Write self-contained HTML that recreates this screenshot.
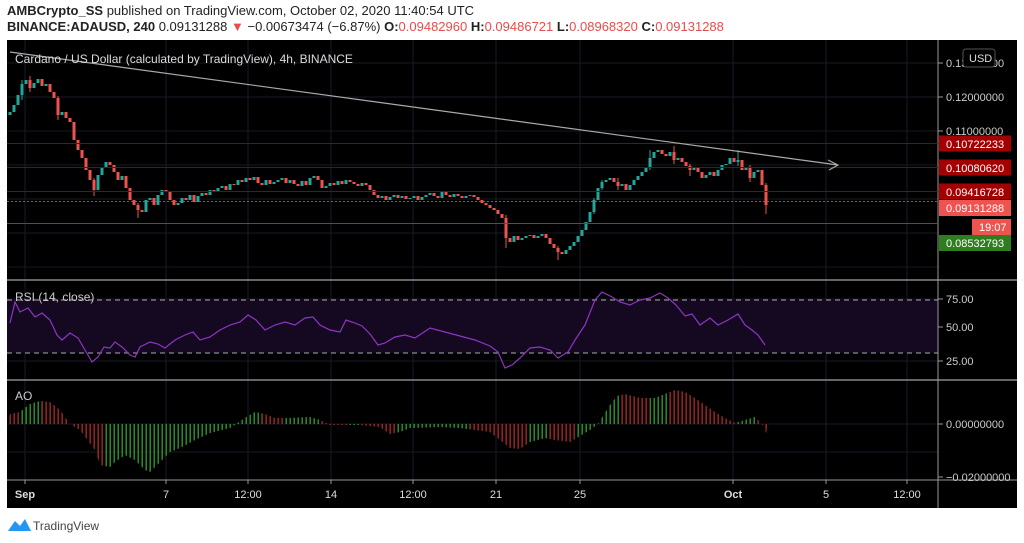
<!DOCTYPE html>
<html><head><meta charset="utf-8"><style>
body{margin:0;background:#fff;width:1024px;height:543px;overflow:hidden;font-family:"Liberation Sans",sans-serif}
.t1{position:absolute;left:7px;top:3px;font-size:13px;color:#222}
.t2{position:absolute;left:7px;top:19px;font-size:13px;color:#222}
.r{color:#e84c4c}
svg{position:absolute;left:0;top:0}
</style></head><body>
<div class="t1"><b>AMBCrypto_SS</b> published on TradingView.com, October 02, 2020 11:40:54 UTC</div>
<div class="t2"><b>BINANCE:ADAUSD, 240</b> 0.09131288 <span class="r">▼</span> −0.00673474 (−6.87%) <b>O:</b><span class="r">0.09482960</span> <b>H:</b><span class="r">0.09486721</span> <b>L:</b><span class="r">0.08968320</span> <b>C:</b><span class="r">0.09131288</span></div>
<svg width="1024" height="543" xmlns="http://www.w3.org/2000/svg" font-family="Liberation Sans, sans-serif" font-size="11">
<defs>
<pattern id="pg" x="9" y="0" width="4" height="10" patternUnits="userSpaceOnUse"><rect x="0.5" y="0" width="1.3" height="10" fill="#1e9e2e"/></pattern>
<pattern id="pr" x="9" y="0" width="4" height="10" patternUnits="userSpaceOnUse"><rect x="0.5" y="0" width="1.3" height="10" fill="#b02a2a"/></pattern>
<clipPath id="ao"><polygon points="8,424 10,414 20,412 30,404 40,401 50,402 60,410 70,424 80,430 95,450 100,465 110,467 115,462 125,455 135,460 145,470 150,472 160,462 170,452 180,448 195,440 210,433 230,428 245,418 255,412 265,414 275,418 290,418 310,417 320,420 330,425 360,425 380,427 390,434 400,432 410,428 440,427 460,428 490,432 500,440 510,448 520,449 530,442 545,438 555,440 570,442 580,436 590,430 598,424 610,405 617,396 625,394 640,398 655,398 665,394 675,390 685,392 695,398 705,405 715,412 725,418 735,423 745,420 755,417 762,424 766,433 768,424"/></clipPath>
</defs>
<rect x="7" y="40" width="1010" height="468" fill="#000"/>
<g stroke="#1a1d2a">
<path d="M25 40V480M166 40V480M248 40V480M331 40V480M413 40V480M496 40V480M580 40V480M733 40V480M826 40V480M907 40V480"/>
<path d="M7 63H938M7 97H938M7 131H938M7 165H938M7 199H938M7 233H938M7 267H938M7 299H938M7 327H938M7 361H938M7 424H938M7 452H938" stroke="#161a25"/>
</g>
<rect x="7" y="300" width="931" height="53" fill="#150821"/>
<path d="M7 300H938M7 353H938" stroke="#aaa" stroke-dasharray="5,4"/>
<path d="M7 280H1017M7 380H1017" stroke="#888" stroke-width="1.5"/>
<path d="M7 480H1017M938 40V508" stroke="#999"/>
<!-- candles -->
<path fill="none" stroke="#26a69a" stroke-width="3" d="M10 115V112M14 112V105M18 105V95M22 95V84M26 84V80M34 88V83M38 83V79M46 86V84M62 115V112M98 190V175M102 175V168M106 168V162M122 180V176M146 212V200M150 200V198M158 205V195M162 195V190M178 205V203M182 203V198M190 200V195M198 202V196M202 196V193M210 195V190M218 192V188M222 188V186M230 190V184M238 185V180M246 182V178M254 180V177M266 185V180M274 184V182M278 182V180M282 180V178M290 183V180M302 186V181M310 185V178M314 178V176M326 188V186M330 186V183M338 185V181M346 184V180M362 186V183M382 198V196M390 200V197M394 197V195M402 198V196M410 199V198M414 198V196M422 200V197M426 197V195M430 195V193M442 198V192M454 197V194M466 198V196M470 196V195M514 242V236M522 240V238M526 238V236M530 236V235M538 238V236M542 236V234M566 254V250M570 250V246M574 246V242M578 242V236M582 236V230M586 230V222M590 222V212M594 212V200M598 200V188M602 188V182M606 182V180M610 180V178M622 186V184M630 190V185M634 185V180M638 180V176M642 176V172M646 172V168M650 168V158M654 158V152M658 152V150M670 156V152M678 160V158M694 170V168M706 178V175M710 175V172M718 176V170M722 170V165M726 165V164M730 164V158M738 162V160M746 170V168M754 178V172M758 172V170"/>
<path fill="none" stroke="#ef5350" stroke-width="3" d="M30 80V88M42 79V86M50 84V92M54 92V98M58 98V115M66 112V118M70 118V122M74 122V140M78 140V150M82 150V158M86 158V170M90 170V180M94 180V190M110 162V165M114 165V172M118 172V180M126 176V188M130 188V200M134 200V205M138 205V210M142 210V212M154 198V205M166 190V192M170 192V200M174 200V205M186 198V200M194 195V202M206 193V195M214 190V192M226 186V190M234 184V185M242 180V182M250 178V180M258 177V183M262 183V185M270 180V184M286 178V183M294 180V184M298 184V186M306 181V185M318 176V180M322 180V188M334 183V185M342 181V184M350 180V182M354 182V184M358 184V186M366 183V185M370 185V190M374 190V195M378 195V198M386 196V200M398 195V198M406 196V199M418 196V200M434 193V196M438 196V198M446 192V195M450 195V197M458 194V196M462 196V198M474 195V197M478 197V200M482 200V203M486 203V205M490 205V208M494 208V210M498 210V214M502 214V218M506 218V238M510 238V242M518 236V240M534 235V238M546 234V238M550 238V244M554 244V248M558 248V252M562 252V254M614 178V182M618 182V186M626 184V190M662 150V154M666 154V156M674 152V160M682 158V162M686 162V166M690 166V170M698 168V172M702 172V178M714 172V176M734 158V162M742 160V170M750 168V178M762 170V185M766 185V205"/>
<!-- wicks (selected) -->
<path fill="none" stroke="#ef5350" d="M30 76V92M58 96V120M94 178V196M138 203V218M506 215V248M558 246V260M618 178V190M690 164V176M766 183V214M750 165V182M674 146V164"/>
<path fill="none" stroke="#26a69a" d="M22 80V100M594 198V214M650 150V170M738 150V166M602 180V190"/>
<!-- levels -->
<path d="M7 143.5H938M7 167.5H938M7 191.5H938" stroke="#8b0000"/>
<path d="M7 201.5H938" stroke="#c04040" stroke-dasharray="2,2"/>
<path d="M7 223.5H938" stroke="#2e6b1e"/>
<path d="M10 52L838 165M828 160L838 165L829 170" stroke="#aaa" stroke-width="1.2" fill="none"/>
<!-- RSI -->
<polyline fill="none" stroke="#8e35c4" stroke-width="1.2" points="10,323 15,302 20,312 28,308 35,317 42,313 50,320 57,335 62,340 70,333 78,338 85,350 92,362 98,357 104,347 110,348 115,342 122,347 130,355 135,357 140,347 150,342 158,344 165,348 175,340 185,335 193,332 200,340 210,337 220,330 230,325 240,322 248,315 256,320 265,330 275,325 285,322 295,325 305,318 313,317 320,325 330,330 340,332 346,320 355,323 362,326 370,334 378,345 385,343 395,337 405,335 415,338 430,328 445,332 460,336 475,340 490,346 498,352 505,368 512,365 520,358 530,348 540,347 550,350 558,358 568,352 575,340 585,325 595,300 602,292 612,297 620,302 630,305 640,300 650,298 660,293 668,298 676,305 685,316 692,314 700,325 710,318 718,325 728,320 738,314 745,325 752,330 758,335 765,345"/>
<!-- AO -->
<g clip-path="url(#ao)">
<rect x="7" y="385" width="765" height="95" fill="url(#pr)"/>
<g fill="url(#pg)">
<rect x="20" y="385" width="22" height="95"/><rect x="105" y="385" width="157" height="95"/>
<rect x="285" y="385" width="34" height="95"/><rect x="348" y="385" width="12" height="95"/>
<rect x="397" y="385" width="73" height="95"/><rect x="527" y="385" width="21" height="95"/>
<rect x="575" y="385" width="45" height="95"/><rect x="650" y="385" width="18" height="95"/>
<rect x="735" y="385" width="20" height="95"/>
</g></g>
<!-- labels -->
<text x="15" y="63" fill="#ddd" font-size="12">Cardano / US Dollar (calculated by TradingView), 4h, BINANCE</text>
<text x="15" y="301" fill="#ccc" font-size="12">RSI (14, close)</text>
<text x="15" y="400" fill="#ccc" font-size="12">AO</text>
<path d="M938 63H943M938 97H943M938 131H943M938 299H943M938 327H943M938 361H943M938 424H943M938 477H943" stroke="#999"/>
<g fill="#ccc">
<text x="946" y="67">0.13000000</text><text x="946" y="101">0.12000000</text><text x="946" y="135">0.11000000</text>
<text x="946" y="303">75.00</text><text x="946" y="331">50.00</text><text x="946" y="365">25.00</text>
<text x="946" y="428">0.00000000</text><text x="946" y="481">−0.02000000</text>
</g>
<rect x="939" y="135.5" width="72" height="16" fill="#a30000"/><text x="946" y="148" fill="#fff">0.10722233</text>
<rect x="939" y="159.5" width="72" height="16" fill="#a30000"/><text x="946" y="172" fill="#fff">0.10080620</text>
<rect x="939" y="183.5" width="72" height="16" fill="#a30000"/><text x="946" y="196" fill="#fff">0.09416728</text>
<rect x="939" y="200" width="72" height="16" fill="#ef5350"/><text x="946" y="212" fill="#fff">0.09131288</text>
<rect x="972" y="219" width="39" height="16" fill="#ef5350"/><text x="979" y="231" fill="#fff">19:07</text>
<rect x="939" y="235" width="72" height="16" fill="#2e7d1e"/><text x="946" y="247" fill="#fff">0.08532793</text>
<rect x="963" y="49" width="32" height="18" rx="3" fill="#000" stroke="#555"/><text x="969" y="62" fill="#ddd">USD</text>
<path d="M25 480V484M166 480V484M248 480V484M331 480V484M413 480V484M496 480V484M580 480V484M733 480V484M826 480V484M907 480V484" stroke="#999"/>
<g fill="#ddd" text-anchor="middle">
<text x="25" y="498" font-weight="bold">Sep</text><text x="166" y="498">7</text><text x="248" y="498">12:00</text><text x="331" y="498">14</text><text x="413" y="498">12:00</text><text x="496" y="498">21</text><text x="580" y="498">25</text><text x="733" y="498" font-weight="bold">Oct</text><text x="826" y="498">5</text><text x="907" y="498">12:00</text>
</g>
<path d="M8 531L15 521L20 526L25 519L31 531Z" fill="#2196f3"/>
<text x="33" y="530" fill="#444" font-size="12">TradingView</text>
</svg>
</body></html>
